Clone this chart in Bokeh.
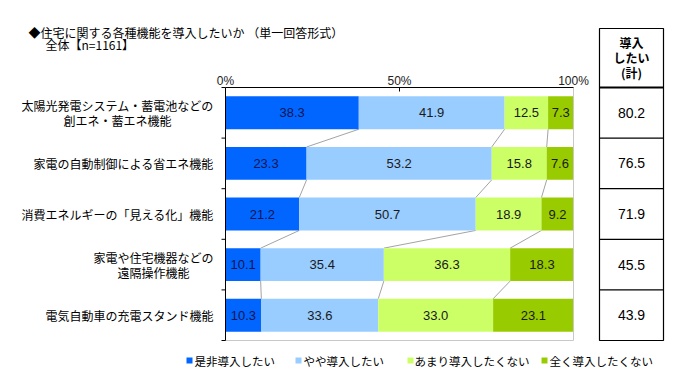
import numpy as np
from bokeh.plotting import figure
from bokeh.models import ColumnDataSource, Range1d
from bokeh.core.properties import value
from bokeh.embed import file_html
from bokeh.resources import INLINE

# ---------------- data ----------------
title_text = "◆住宅に関する各種機能を導入したいか （単一回答形式）"
subtitle_text = "全体【n=1161】"
categories = [
    ["太陽光発電システム・蓄電池などの", "創エネ・蓄エネ機能"],
    ["家電の自動制御による省エネ機能"],
    ["消費エネルギーの「見える化」機能"],
    ["家電や住宅機器などの", "遠隔操作機能"],
    ["電気自動車の充電スタンド機能"],
]
series_names = ["是非導入したい", "やや導入したい", "あまり導入したくない", "全く導入したくない"]
s_zehi = [38.3, 23.3, 21.2, 10.1, 10.3]
s_yaya = [41.9, 53.2, 50.7, 35.4, 33.6]
s_amari = [12.5, 15.8, 18.9, 36.3, 33.0]
s_mattaku = [7.3, 7.6, 9.2, 18.3, 23.1]
totals = [80.2, 76.5, 71.9, 45.5, 43.9]
x_ticks = [0, 50, 100]
x_tick_labels = ["0%", "50%", "100%"]
table_header = ["導入", "したい", "(計)"]

colors = ["#0066FF", "#99CCFF", "#CCFF66", "#99CC00"]
label_colors = ["#141450", "#1a1a1a", "#1a1a1a", "#1a1a1a"]

# ---------------- layout (page pixels) ----------------
W, H = 674, 373
OFF = 0
PX0, PX100 = 225, 573          # page x of 0% and 100%
PYT, PYB = 87, 340             # page y of plot top / bottom
SX = (PX100 - PX0) / 100.0
SY = (PYB - PYT) / len(categories)


def X(px):
    return (px - PX0) / SX


def Y(py):
    return (py - PYT) / SY - 0.5


JP = value("Noto Sans CJK JP")
LAT = value("Liberation Sans")

p = figure(width=W, height=H,
           x_range=Range1d(X(OFF), X(OFF + W)),
           y_range=Range1d(Y(OFF + H), Y(OFF)),
           min_border=0, toolbar_location=None, output_backend="svg",
           x_axis_type=None, y_axis_type=None, title=None,
           outline_line_color=None, background_fill_color="white",
           border_fill_color="white")

n = len(categories)
ys = np.arange(n)
vals = np.array([s_zehi, s_yaya, s_amari, s_mattaku]).T
cum = np.cumsum(vals, axis=1)
lefts = cum - vals
BAR_H = 0.65

# connector lines
for k in range(3):
    p.segment(x0=cum[:-1, k], y0=ys[:-1] + BAR_H / 2,
              x1=cum[1:, k], y1=ys[1:] - BAR_H / 2,
              line_color="#8c8c8c", line_width=0.8)

# bars and value labels
for k in range(4):
    src = ColumnDataSource(dict(
        y=ys, left=lefts[:, k], right=cum[:, k],
        mid=(lefts[:, k] + cum[:, k]) / 2,
        lab=[f"{v:.1f}" for v in vals[:, k]]))
    p.hbar(y="y", left="left", right="right", height=BAR_H,
           fill_color=colors[k], line_color=None, source=src)
    p.text(x="mid", y="y", text="lab", source=src,
           text_align="center", text_baseline="middle",
           text_font=LAT, text_font_size="13px", text_color=label_colors[k])

# plot frame
p.segment(x0=[0, 100], y0=[4.5, -0.5], x1=[100, 100], y1=[4.5, 4.5],
          line_color="#c8c8c8", line_width=1)
p.segment(x0=[0, 0], y0=[-0.5, -0.5], x1=[100, 0], y1=[-0.5, 4.5],
          line_color="#000000", line_width=1)
# left ticks at category boundaries
bnd = np.arange(n + 1) - 0.5
p.segment(x0=np.full(n + 1, X(221)), y0=bnd, x1=np.zeros(n + 1), y1=bnd,
          line_color="#000000", line_width=1)
# top tick (50%)
p.segment(x0=[50], y0=[-0.5], x1=[50], y1=[Y(91)],
          line_color="#000000", line_width=1)

# x tick labels
p.text(x=x_ticks, y=[Y(80)] * len(x_ticks), text=x_tick_labels,
       text_align="center", text_baseline="middle",
       text_font=LAT, text_font_size="12px", text_color="#222222")

# category labels
FS = 12
RIGHT = X(213)
for i, lines in enumerate(categories):
    if len(lines) == 1:
        p.text(x=[RIGHT], y=[i], text=[lines[0]], text_align="right",
               text_baseline="middle", text_font=JP,
               text_font_size=f"{FS}px", text_color="#000000")
    else:
        w1 = len(lines[0]) * FS
        cx = X(213 - w1 / 2)
        p.text(x=[RIGHT], y=[i], text=[lines[0]], text_align="right",
               text_baseline="middle", text_font=JP, y_offset=-7.5,
               text_font_size=f"{FS}px", text_color="#000000")
        p.text(x=[cx], y=[i], text=[lines[1]], text_align="center",
               text_baseline="middle", text_font=JP, y_offset=7.5,
               text_font_size=f"{FS}px", text_color="#000000")

# title
p.text(x=[X(28)], y=[Y(32)], text=[title_text], text_align="left",
       text_baseline="middle", text_font=JP, text_font_size="12px",
       text_color="#000000")
p.text(x=[X(45)], y=[Y(44)], text=[subtitle_text], text_align="left",
       text_baseline="middle", text_font=JP, text_font_size="12px",
       text_color="#000000")

# right table
TL, TR = X(599), X(663)
TCX = X(631)
p.quad(left=[TL], right=[TR], top=[Y(28)], bottom=[4.5],
       fill_color=None, line_color="#000000", line_width=1.2)
p.segment(x0=[TL], y0=[-0.5], x1=[TR], y1=[-0.5], line_color="#000000", line_width=2)
p.segment(x0=np.full(n - 1, TL), y0=bnd[1:-1], x1=np.full(n - 1, TR), y1=bnd[1:-1],
          line_color="#000000", line_width=1.2)
p.text(x=[TCX] * 3, y=[Y(42), Y(56.5), Y(71.5)], text=table_header,
       text_align="center", text_baseline="middle", text_font=JP,
       text_font_size="12px", text_font_style="bold", text_color="#000000")
p.text(x=[TCX] * n, y=ys, text=[f"{t:.1f}" for t in totals],
       text_align="center", text_baseline="middle", text_font=LAT,
       text_font_size="14px", text_color="#000000")

# legend
marker_px = [189, 298, 410, 544]
text_px = [194, 303, 414, 549]
LY = Y(360)
p.scatter(x=[X(m) for m in marker_px], y=[LY] * 4, marker="square", size=6,
          fill_color=colors, line_color=None)
p.text(x=[X(t) for t in text_px], y=[LY] * 4, text=series_names,
       text_align="left", text_baseline="middle", text_font=JP,
       text_font_size="11.5px", text_color="#000000")

open("out.html", "w").write(file_html(p, INLINE))
